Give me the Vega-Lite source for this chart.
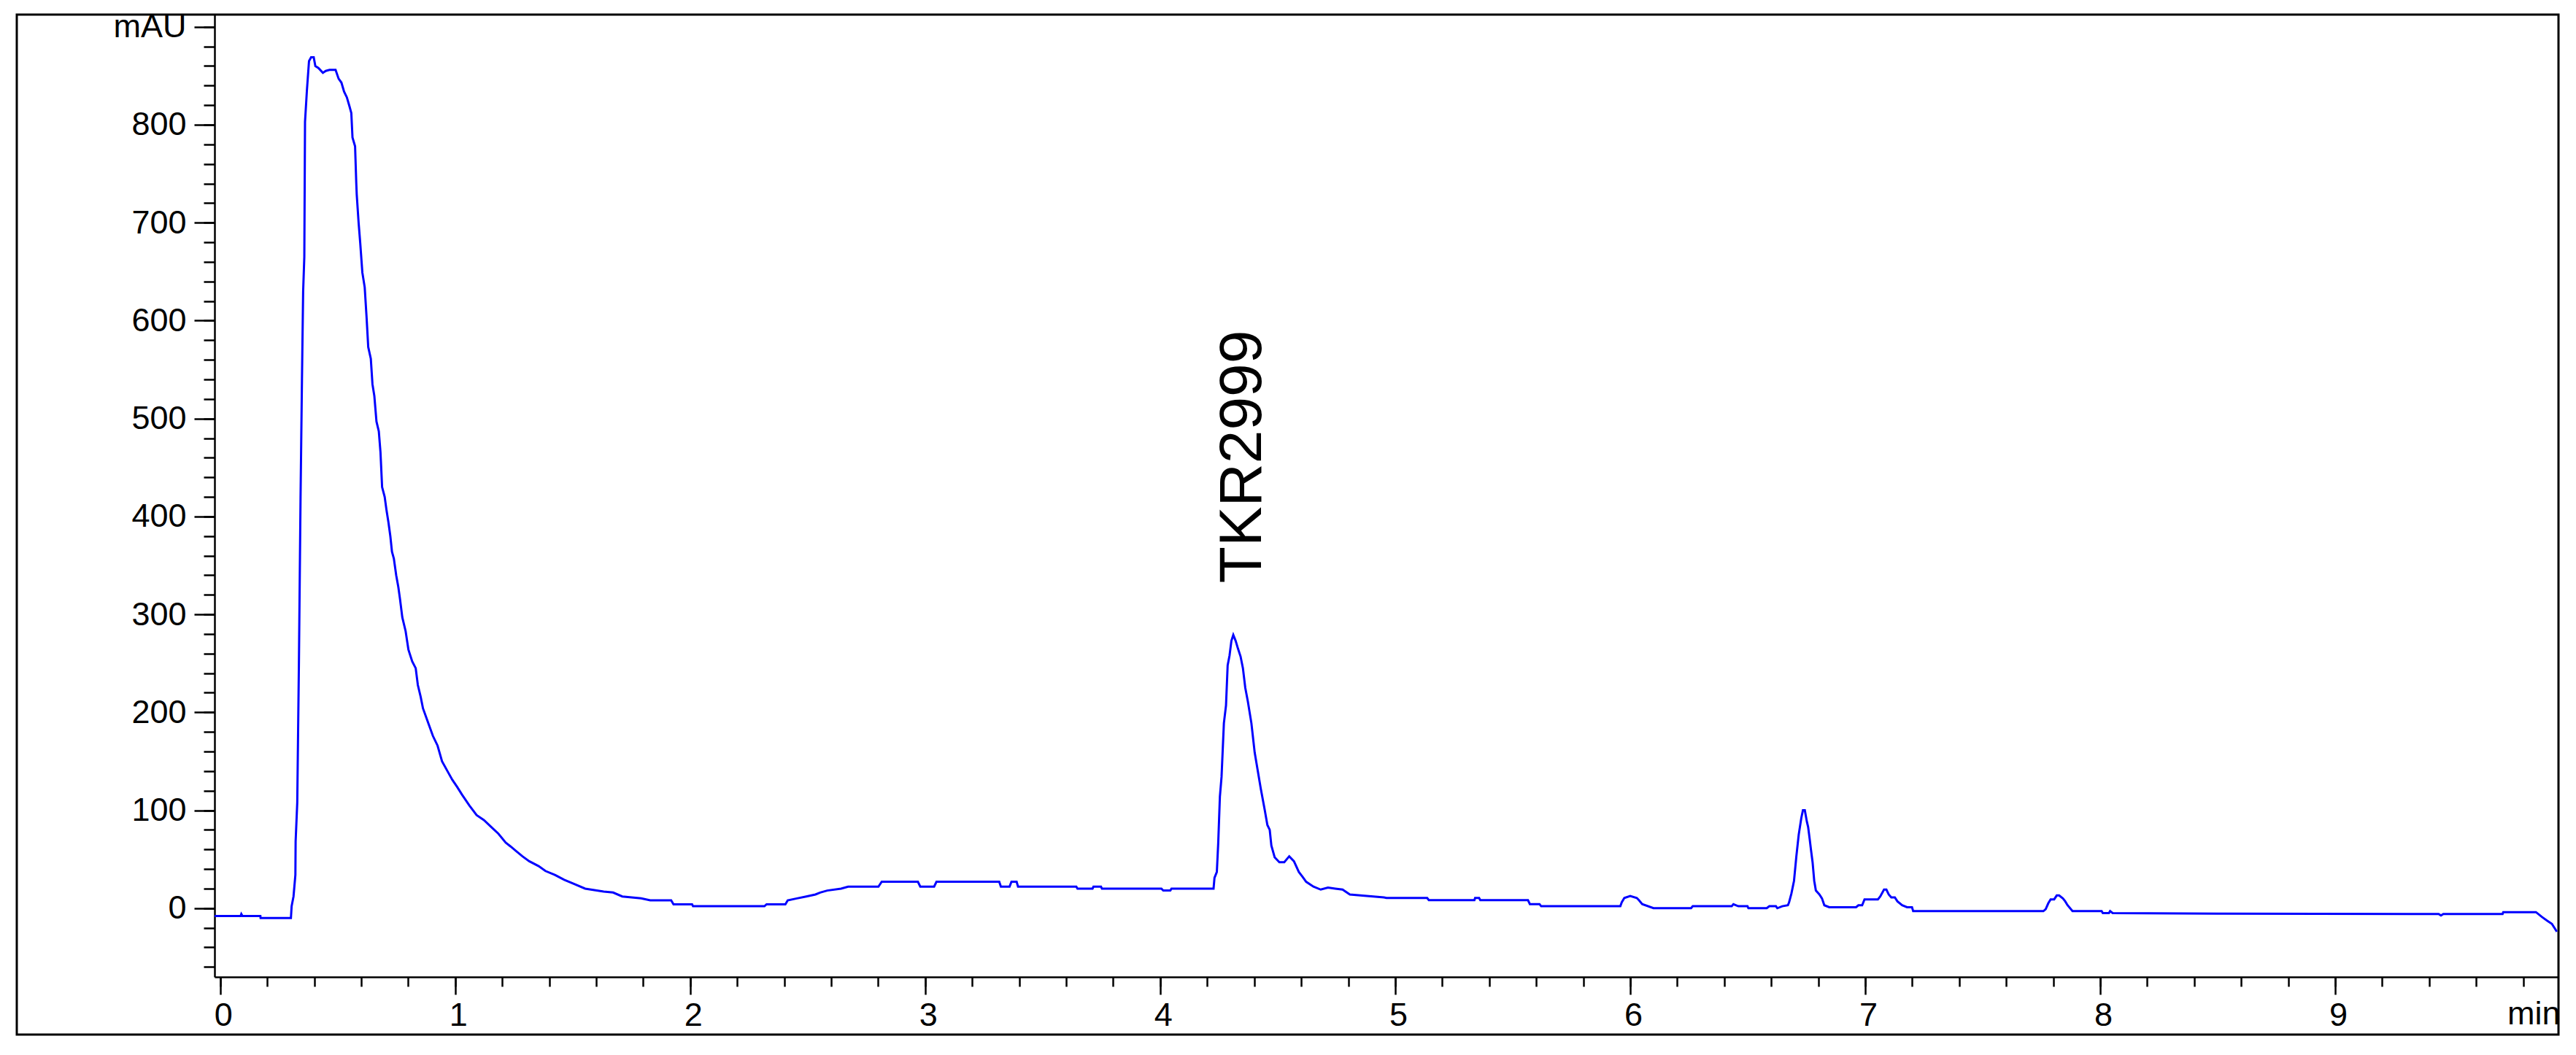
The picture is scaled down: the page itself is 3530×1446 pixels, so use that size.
{
  "$schema": "https://vega.github.io/schema/vega-lite/v6.json",
  "width": 3212,
  "height": 1319,
  "autosize": {"type": "none"},
  "padding": {"left": 294, "top": 20, "right": 24, "bottom": 107},
  "background": "white",
  "config": {"view": {"stroke": null}, "font": "Liberation Sans"},
  "datasets": {
    "trace": [
      {"time": -0.024, "mAU": -8}, {"time": 0.087, "mAU": -8}, {"time": 0.09, "mAU": -6}, {"time": 0.095, "mAU": -8},
      {"time": 0.171, "mAU": -8}, {"time": 0.172, "mAU": -10}, {"time": 0.301, "mAU": -10}, {"time": 0.304, "mAU": 2},
      {"time": 0.312, "mAU": 12}, {"time": 0.32, "mAU": 34}, {"time": 0.321, "mAU": 68}, {"time": 0.328, "mAU": 108},
      {"time": 0.335, "mAU": 250}, {"time": 0.342, "mAU": 420}, {"time": 0.348, "mAU": 540}, {"time": 0.353, "mAU": 630},
      {"time": 0.358, "mAU": 665}, {"time": 0.361, "mAU": 803}, {"time": 0.369, "mAU": 835}, {"time": 0.378, "mAU": 865},
      {"time": 0.387, "mAU": 869}, {"time": 0.398, "mAU": 869}, {"time": 0.405, "mAU": 860}, {"time": 0.418, "mAU": 858},
      {"time": 0.437, "mAU": 853}, {"time": 0.449, "mAU": 855}, {"time": 0.465, "mAU": 856}, {"time": 0.491, "mAU": 856},
      {"time": 0.504, "mAU": 847}, {"time": 0.516, "mAU": 843}, {"time": 0.527, "mAU": 834}, {"time": 0.539, "mAU": 828},
      {"time": 0.55, "mAU": 819}, {"time": 0.558, "mAU": 812}, {"time": 0.563, "mAU": 787}, {"time": 0.574, "mAU": 778},
      {"time": 0.579, "mAU": 741}, {"time": 0.581, "mAU": 729}, {"time": 0.589, "mAU": 700}, {"time": 0.596, "mAU": 679},
      {"time": 0.605, "mAU": 649}, {"time": 0.615, "mAU": 634}, {"time": 0.623, "mAU": 603}, {"time": 0.63, "mAU": 573},
      {"time": 0.641, "mAU": 561}, {"time": 0.648, "mAU": 535}, {"time": 0.656, "mAU": 523}, {"time": 0.665, "mAU": 497},
      {"time": 0.675, "mAU": 487}, {"time": 0.682, "mAU": 466}, {"time": 0.689, "mAU": 430}, {"time": 0.7, "mAU": 420},
      {"time": 0.708, "mAU": 406}, {"time": 0.716, "mAU": 394}, {"time": 0.724, "mAU": 380}, {"time": 0.731, "mAU": 364},
      {"time": 0.739, "mAU": 357}, {"time": 0.749, "mAU": 340}, {"time": 0.758, "mAU": 328}, {"time": 0.765, "mAU": 316},
      {"time": 0.775, "mAU": 297}, {"time": 0.789, "mAU": 283}, {"time": 0.801, "mAU": 264}, {"time": 0.817, "mAU": 252},
      {"time": 0.832, "mAU": 245}, {"time": 0.841, "mAU": 228}, {"time": 0.853, "mAU": 216}, {"time": 0.863, "mAU": 204},
      {"time": 0.884, "mAU": 190}, {"time": 0.905, "mAU": 176}, {"time": 0.925, "mAU": 166}, {"time": 0.944, "mAU": 150},
      {"time": 0.967, "mAU": 140}, {"time": 0.988, "mAU": 131}, {"time": 1.008, "mAU": 124}, {"time": 1.029, "mAU": 116},
      {"time": 1.06, "mAU": 105}, {"time": 1.091, "mAU": 95}, {"time": 1.122, "mAU": 90}, {"time": 1.153, "mAU": 83},
      {"time": 1.184, "mAU": 76}, {"time": 1.215, "mAU": 67}, {"time": 1.236, "mAU": 63}, {"time": 1.256, "mAU": 59},
      {"time": 1.286, "mAU": 53}, {"time": 1.315, "mAU": 48}, {"time": 1.355, "mAU": 43}, {"time": 1.384, "mAU": 38},
      {"time": 1.424, "mAU": 34}, {"time": 1.464, "mAU": 29}, {"time": 1.503, "mAU": 25}, {"time": 1.553, "mAU": 20},
      {"time": 1.632, "mAU": 17}, {"time": 1.672, "mAU": 16}, {"time": 1.711, "mAU": 12}, {"time": 1.791, "mAU": 10},
      {"time": 1.83, "mAU": 8}, {"time": 1.919, "mAU": 8}, {"time": 1.929, "mAU": 4}, {"time": 2.008, "mAU": 4},
      {"time": 2.012, "mAU": 2}, {"time": 2.316, "mAU": 2}, {"time": 2.325, "mAU": 4}, {"time": 2.405, "mAU": 4},
      {"time": 2.415, "mAU": 8}, {"time": 2.454, "mAU": 10}, {"time": 2.494, "mAU": 12}, {"time": 2.533, "mAU": 14},
      {"time": 2.553, "mAU": 16}, {"time": 2.583, "mAU": 18}, {"time": 2.642, "mAU": 20}, {"time": 2.672, "mAU": 22},
      {"time": 2.801, "mAU": 22}, {"time": 2.815, "mAU": 27}, {"time": 2.969, "mAU": 27}, {"time": 2.979, "mAU": 22},
      {"time": 3.038, "mAU": 22}, {"time": 3.048, "mAU": 27}, {"time": 3.315, "mAU": 27}, {"time": 3.322, "mAU": 22},
      {"time": 3.359, "mAU": 22}, {"time": 3.367, "mAU": 27}, {"time": 3.389, "mAU": 27}, {"time": 3.395, "mAU": 22},
      {"time": 3.643, "mAU": 22}, {"time": 3.648, "mAU": 20}, {"time": 3.712, "mAU": 20}, {"time": 3.716, "mAU": 22},
      {"time": 3.748, "mAU": 22}, {"time": 3.752, "mAU": 20}, {"time": 4.005, "mAU": 20}, {"time": 4.013, "mAU": 18},
      {"time": 4.043, "mAU": 18}, {"time": 4.048, "mAU": 20}, {"time": 4.227, "mAU": 20}, {"time": 4.231, "mAU": 31},
      {"time": 4.241, "mAU": 37}, {"time": 4.247, "mAU": 67}, {"time": 4.254, "mAU": 114}, {"time": 4.261, "mAU": 134},
      {"time": 4.271, "mAU": 189}, {"time": 4.28, "mAU": 207}, {"time": 4.287, "mAU": 248}, {"time": 4.295, "mAU": 258},
      {"time": 4.303, "mAU": 273}, {"time": 4.311, "mAU": 279}, {"time": 4.321, "mAU": 273}, {"time": 4.331, "mAU": 265},
      {"time": 4.342, "mAU": 257}, {"time": 4.352, "mAU": 245}, {"time": 4.362, "mAU": 225}, {"time": 4.373, "mAU": 211},
      {"time": 4.388, "mAU": 189}, {"time": 4.402, "mAU": 159}, {"time": 4.414, "mAU": 142}, {"time": 4.428, "mAU": 122},
      {"time": 4.445, "mAU": 100}, {"time": 4.456, "mAU": 85}, {"time": 4.466, "mAU": 80}, {"time": 4.473, "mAU": 64},
      {"time": 4.487, "mAU": 52}, {"time": 4.507, "mAU": 47}, {"time": 4.528, "mAU": 47}, {"time": 4.549, "mAU": 53},
      {"time": 4.569, "mAU": 48}, {"time": 4.59, "mAU": 37}, {"time": 4.606, "mAU": 32}, {"time": 4.621, "mAU": 27},
      {"time": 4.652, "mAU": 22}, {"time": 4.683, "mAU": 19}, {"time": 4.714, "mAU": 21}, {"time": 4.745, "mAU": 20},
      {"time": 4.776, "mAU": 19}, {"time": 4.807, "mAU": 14}, {"time": 4.952, "mAU": 11}, {"time": 4.963, "mAU": 10.4},
      {"time": 5.136, "mAU": 10.4}, {"time": 5.143, "mAU": 8.2}, {"time": 5.337, "mAU": 8.2}, {"time": 5.34, "mAU": 10.4},
      {"time": 5.357, "mAU": 10.4}, {"time": 5.362, "mAU": 8.2}, {"time": 5.565, "mAU": 8.2}, {"time": 5.573, "mAU": 4.2},
      {"time": 5.614, "mAU": 4.2}, {"time": 5.621, "mAU": 2}, {"time": 5.958, "mAU": 2}, {"time": 5.964, "mAU": 6},
      {"time": 5.975, "mAU": 10.4}, {"time": 6.0, "mAU": 12.4}, {"time": 6.028, "mAU": 10.4}, {"time": 6.037, "mAU": 8.2},
      {"time": 6.051, "mAU": 4.2}, {"time": 6.099, "mAU": 0}, {"time": 6.259, "mAU": 0}, {"time": 6.266, "mAU": 2},
      {"time": 6.432, "mAU": 2}, {"time": 6.439, "mAU": 4}, {"time": 6.46, "mAU": 2}, {"time": 6.499, "mAU": 2},
      {"time": 6.503, "mAU": 0}, {"time": 6.581, "mAU": 0}, {"time": 6.592, "mAU": 2}, {"time": 6.62, "mAU": 2},
      {"time": 6.626, "mAU": 0}, {"time": 6.647, "mAU": 2}, {"time": 6.671, "mAU": 3}, {"time": 6.676, "mAU": 6},
      {"time": 6.686, "mAU": 15}, {"time": 6.697, "mAU": 28}, {"time": 6.707, "mAU": 53}, {"time": 6.717, "mAU": 75},
      {"time": 6.728, "mAU": 92}, {"time": 6.735, "mAU": 100}, {"time": 6.743, "mAU": 100}, {"time": 6.752, "mAU": 88},
      {"time": 6.757, "mAU": 83}, {"time": 6.764, "mAU": 70}, {"time": 6.769, "mAU": 60}, {"time": 6.776, "mAU": 47},
      {"time": 6.783, "mAU": 28}, {"time": 6.79, "mAU": 18}, {"time": 6.805, "mAU": 14}, {"time": 6.816, "mAU": 10},
      {"time": 6.826, "mAU": 3}, {"time": 6.847, "mAU": 1}, {"time": 6.961, "mAU": 1}, {"time": 6.971, "mAU": 3},
      {"time": 6.987, "mAU": 3}, {"time": 6.997, "mAU": 9}, {"time": 7.054, "mAU": 9}, {"time": 7.064, "mAU": 12},
      {"time": 7.08, "mAU": 19}, {"time": 7.09, "mAU": 19}, {"time": 7.1, "mAU": 14}, {"time": 7.111, "mAU": 11},
      {"time": 7.126, "mAU": 11}, {"time": 7.137, "mAU": 7}, {"time": 7.157, "mAU": 3}, {"time": 7.178, "mAU": 1},
      {"time": 7.199, "mAU": 1}, {"time": 7.204, "mAU": -3}, {"time": 7.758, "mAU": -3}, {"time": 7.768, "mAU": -1},
      {"time": 7.779, "mAU": 5}, {"time": 7.789, "mAU": 9}, {"time": 7.804, "mAU": 9}, {"time": 7.815, "mAU": 13},
      {"time": 7.825, "mAU": 13}, {"time": 7.841, "mAU": 10}, {"time": 7.851, "mAU": 7}, {"time": 7.861, "mAU": 3},
      {"time": 7.882, "mAU": -3}, {"time": 8.006, "mAU": -3}, {"time": 8.011, "mAU": -5}, {"time": 8.037, "mAU": -5},
      {"time": 8.042, "mAU": -3}, {"time": 8.053, "mAU": -5}, {"time": 8.5, "mAU": -5.5}, {"time": 9.44, "mAU": -6},
      {"time": 9.45, "mAU": -7.5}, {"time": 9.46, "mAU": -6}, {"time": 9.712, "mAU": -6}, {"time": 9.715, "mAU": -4},
      {"time": 9.854, "mAU": -4}, {"time": 9.88, "mAU": -9}, {"time": 9.901, "mAU": -12.6}, {"time": 9.922, "mAU": -16},
      {"time": 9.943, "mAU": -24}
    ],
    "peaks": [{"time": 4.311, "mAU": 332, "label": "TKR2999"}]
  },
  "layer": [
    {
      "data": {"values": [{}]},
      "mark": {"type": "rect", "fillOpacity": 0, "stroke": "black", "strokeWidth": 3},
      "encoding": {
        "x": {
          "datum": -0.8655, "type": "quantitative",
          "scale": {"domain": [-0.024, 9.95], "nice": false, "zero": false},
          "axis": {
            "orient": "bottom", "values": [0, 0.2, 0.4, 0.6, 0.8, 1, 1.2, 1.4, 1.6, 1.8, 2, 2.2, 2.4, 2.6, 2.8, 3, 3.2, 3.4, 3.6, 3.8, 4, 4.2, 4.4, 4.6, 4.8, 5, 5.2, 5.4, 5.6, 5.8, 6, 6.2, 6.4, 6.6, 6.8, 7, 7.2, 7.4, 7.6, 7.8, 8, 8.2, 8.4, 8.6, 8.8, 9, 9.2, 9.4, 9.6, 9.8],
            "labels": false, "domain": false, "grid": false, "ticks": true,
            "tickSize": 13, "tickWidth": 2.5, "tickColor": "black", "title": null
          }
        },
        "x2": {"datum": 9.95},
        "y": {
          "datum": -129, "type": "quantitative",
          "scale": {"domain": [-70.2, 912.5], "nice": false, "zero": false},
          "axis": {
            "orient": "left", "values": [-60, -40, -20, 0, 20, 40, 60, 80, 100, 120, 140, 160, 180, 200, 220, 240, 260, 280, 300, 320, 340, 360, 380, 400, 420, 440, 460, 480, 500, 520, 540, 560, 580, 600, 620, 640, 660, 680, 700, 720, 740, 760, 780, 800, 820, 840, 860, 880, 900],
            "labels": false, "domain": false, "grid": false, "ticks": true,
            "tickSize": 15, "tickWidth": 2.5, "tickColor": "black", "title": null
          }
        },
        "y2": {"datum": 912.5}
      }
    },
    {
      "data": {"name": "trace"},
      "mark": {"type": "line", "color": "#0000ff", "strokeWidth": 3, "interpolate": "linear"},
      "encoding": {
        "x": {
          "field": "time", "type": "quantitative",
          "scale": {"domain": [-0.024, 9.95], "nice": false, "zero": false},
          "axis": {
            "orient": "bottom", "values": [0, 1, 2, 3, 4, 5, 6, 7, 8, 9],
            "grid": false, "domain": true, "domainColor": "black", "domainWidth": 2.5,
            "tickSize": 24, "tickWidth": 2.5, "tickColor": "black",
            "labelFont": "Liberation Sans", "labelFontSize": 45, "labelColor": "black",
            "labelPadding": 6, "labelOffset": 4, "labelFlush": false, "labelOverlap": false, "labelBound": false,
            "title": "min", "titleFont": "Liberation Sans", "titleFontSize": 45, "titleFontWeight": "normal",
            "titleColor": "black", "titleX": 3214, "titleY": 64, "titleAlign": "right", "titleBaseline": "alphabetic", "titleAngle": 0
          }
        },
        "y": {
          "field": "mAU", "type": "quantitative",
          "scale": {"domain": [-70.2, 912.5], "nice": false, "zero": false},
          "axis": {
            "orient": "left", "values": [0, 100, 200, 300, 400, 500, 600, 700, 800, 900],
            "labelExpr": "datum.value == 900 ? 'mAU' : datum.label",
            "grid": false, "domain": true, "domainColor": "black", "domainWidth": 2.5,
            "tickSize": 28, "tickWidth": 2.5, "tickColor": "black",
            "labelFont": "Liberation Sans", "labelFontSize": 45, "labelColor": "black",
            "labelPadding": 11, "labelFlush": false, "labelOverlap": false, "labelBound": false,
            "title": null
          }
        }
      }
    },
    {
      "data": {"name": "peaks"},
      "mark": {"type": "text", "angle": 270, "align": "left", "baseline": "alphabetic", "font": "Liberation Sans", "fontSize": 82, "color": "black", "dy": 38},
      "encoding": {
        "x": {"field": "time", "type": "quantitative", "axis": null},
        "y": {"field": "mAU", "type": "quantitative", "axis": null},
        "text": {"field": "label"}
      }
    }
  ],
  "resolve": {"axis": {"x": "independent", "y": "independent"}}
}
